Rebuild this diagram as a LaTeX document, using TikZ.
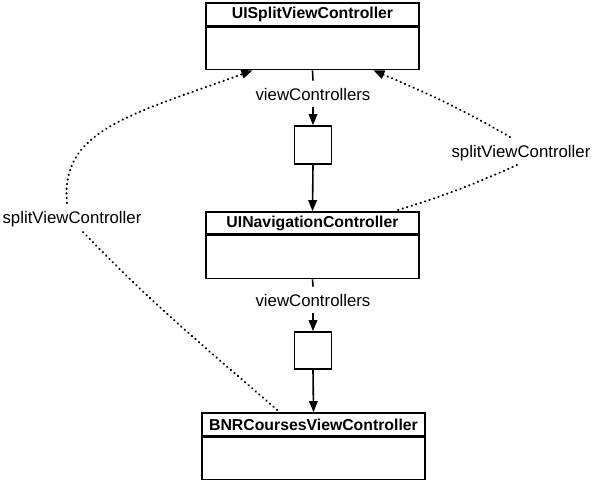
\documentclass[tikz,border=0pt]{standalone}
\usepackage{fontspec}
\setmainfont{Liberation Sans}
\usetikzlibrary{arrows.meta,calc}
\begin{document}
\begin{tikzpicture}[x=1pt,y=-1pt,
  every node/.style={font=\fontsize{16.8}{19}\selectfont},
  hdr/.style={draw,line width=1.6pt,inner sep=0pt,font=\fontsize{15.8}{18}\selectfont\bfseries},
  bdy/.style={draw,line width=1.6pt,inner sep=0pt},
  sq/.style={draw,line width=1.6pt,minimum width=37pt,inner sep=0pt},
  lbl/.style={inner xsep=1pt,inner ysep=7pt},
  link/.style={line width=1.6pt},
  arr/.style={link,-{Triangle[length=11pt,width=8.5pt]}},
  dots/.style={line width=2.1pt,line cap=round,dash pattern=on 0.4pt off 4.3pt},
  darr/.style={dots,-{Triangle[length=11pt,width=8.5pt]}},
]
\useasboundingbox (0,0) rectangle (595,481);

% boxes
\node[hdr,minimum width=213pt,minimum height=23pt] (t) at (312.5,14.5) {UISplitViewController};
\node[bdy,minimum width=213pt,minimum height=42pt,anchor=north] (tb) at (t.south) {};

\node[hdr,minimum width=213pt,minimum height=22pt] (n) at (312.5,223) {UINavigationController};
\node[bdy,minimum width=213pt,minimum height=43pt,anchor=north] (nb) at (n.south) {};

\node[hdr,minimum width=223pt,minimum height=23pt] (b) at (313.5,424.5) {BNRCoursesViewController};
\node[bdy,minimum width=223pt,minimum height=42pt,anchor=north] (bb) at (b.south) {};

\node[sq,minimum height=38pt] (s1) at (313,145) {};
\node[sq,minimum height=37pt] (s2) at (313,350.5) {};

% labels
\node[lbl] (vc1) at (313,94) {viewControllers};
\node[lbl] (vc2) at (313,300) {viewControllers};
\node (l1) at (72,219) {splitViewController};
\node (l2) at (521,153) {splitViewController};

% solid connectors
\draw[link] (tb.south) -- (vc1.north);
\draw[arr] (vc1.south) -- (s1.north);
\draw[arr] (s1.south) -- (n.north);
\draw[link] (nb.south) -- (vc2.north);
\draw[arr] (vc2.south) -- (s2.north);
\draw[arr] (s2.south) -- (b.north);

% dotted connectors
\coordinate (tl) at ($(tb.south west)!0.22!(tb.south east)$);
\coordinate (tr) at ($(tb.south west)!0.784!(tb.south east)$);
\coordinate (bl) at ($(b.north west)!0.35!(b.north east)$);
\coordinate (nr) at ($(n.north west)!0.88!(n.north east)$);

\draw[darr] ($(l1.center)+(-5,-16)$) .. controls (60,130) and (130,115) .. (tl);
\draw[dots] ($(l1.center)+(11,13)$) to[out=-46,in=139] (bl);
\draw[darr] ($(l2.center)+(-11,-16)$) to[out=150,in=-23] (tr);
\draw[dots] ($(l2.center)+(-4,12)$) to[out=204,in=17] (nr);
\end{tikzpicture}
\end{document}
